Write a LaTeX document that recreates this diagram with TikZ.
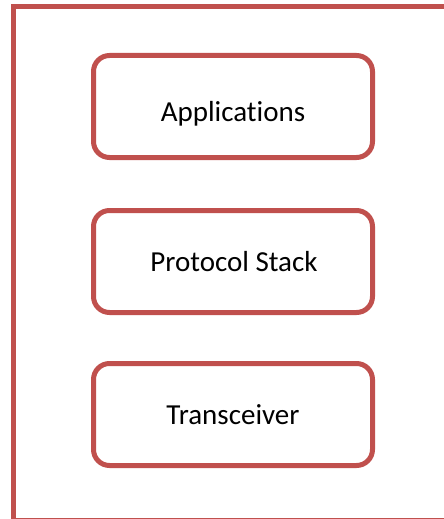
\documentclass[tikz,border=0pt]{standalone}
\usepackage{fontspec}
\setmainfont{Carlito}[Ligatures=NoCommon]
\definecolor{boxred}{HTML}{C0504D}
\begin{document}
\begin{tikzpicture}[x=1pt, y=-1pt,
  layer/.style={draw=boxred, line width=5pt, rounded corners=16pt,
    minimum width=279pt, minimum height=102pt, inner sep=0pt},
  lbl/.style={anchor=base, inner sep=0pt, font=\fontsize{29}{35}\selectfont}]
  \useasboundingbox (0,0) rectangle (444,519);
  \clip (0,0) rectangle (444,519);
  % enclosing frame (runs past the right and bottom edges)
  \draw[boxred, line width=5pt] (13.5,7) rectangle (447,520.6);
  % the three stacked layers
  \node[layer] (app) at (233,106.5) {};
  \node[layer] (stack) at (233,261.5) {};
  \node[layer] (trx) at (233,414.5) {};
  \node[lbl] (appt) at (233,121.5) {Applications};
  \node[lbl] (stackt) at (234,271.5) {Protocol Stack};
  \node[lbl] (trxt) at (233,424) {Transceiver};
\end{tikzpicture}
\end{document}
